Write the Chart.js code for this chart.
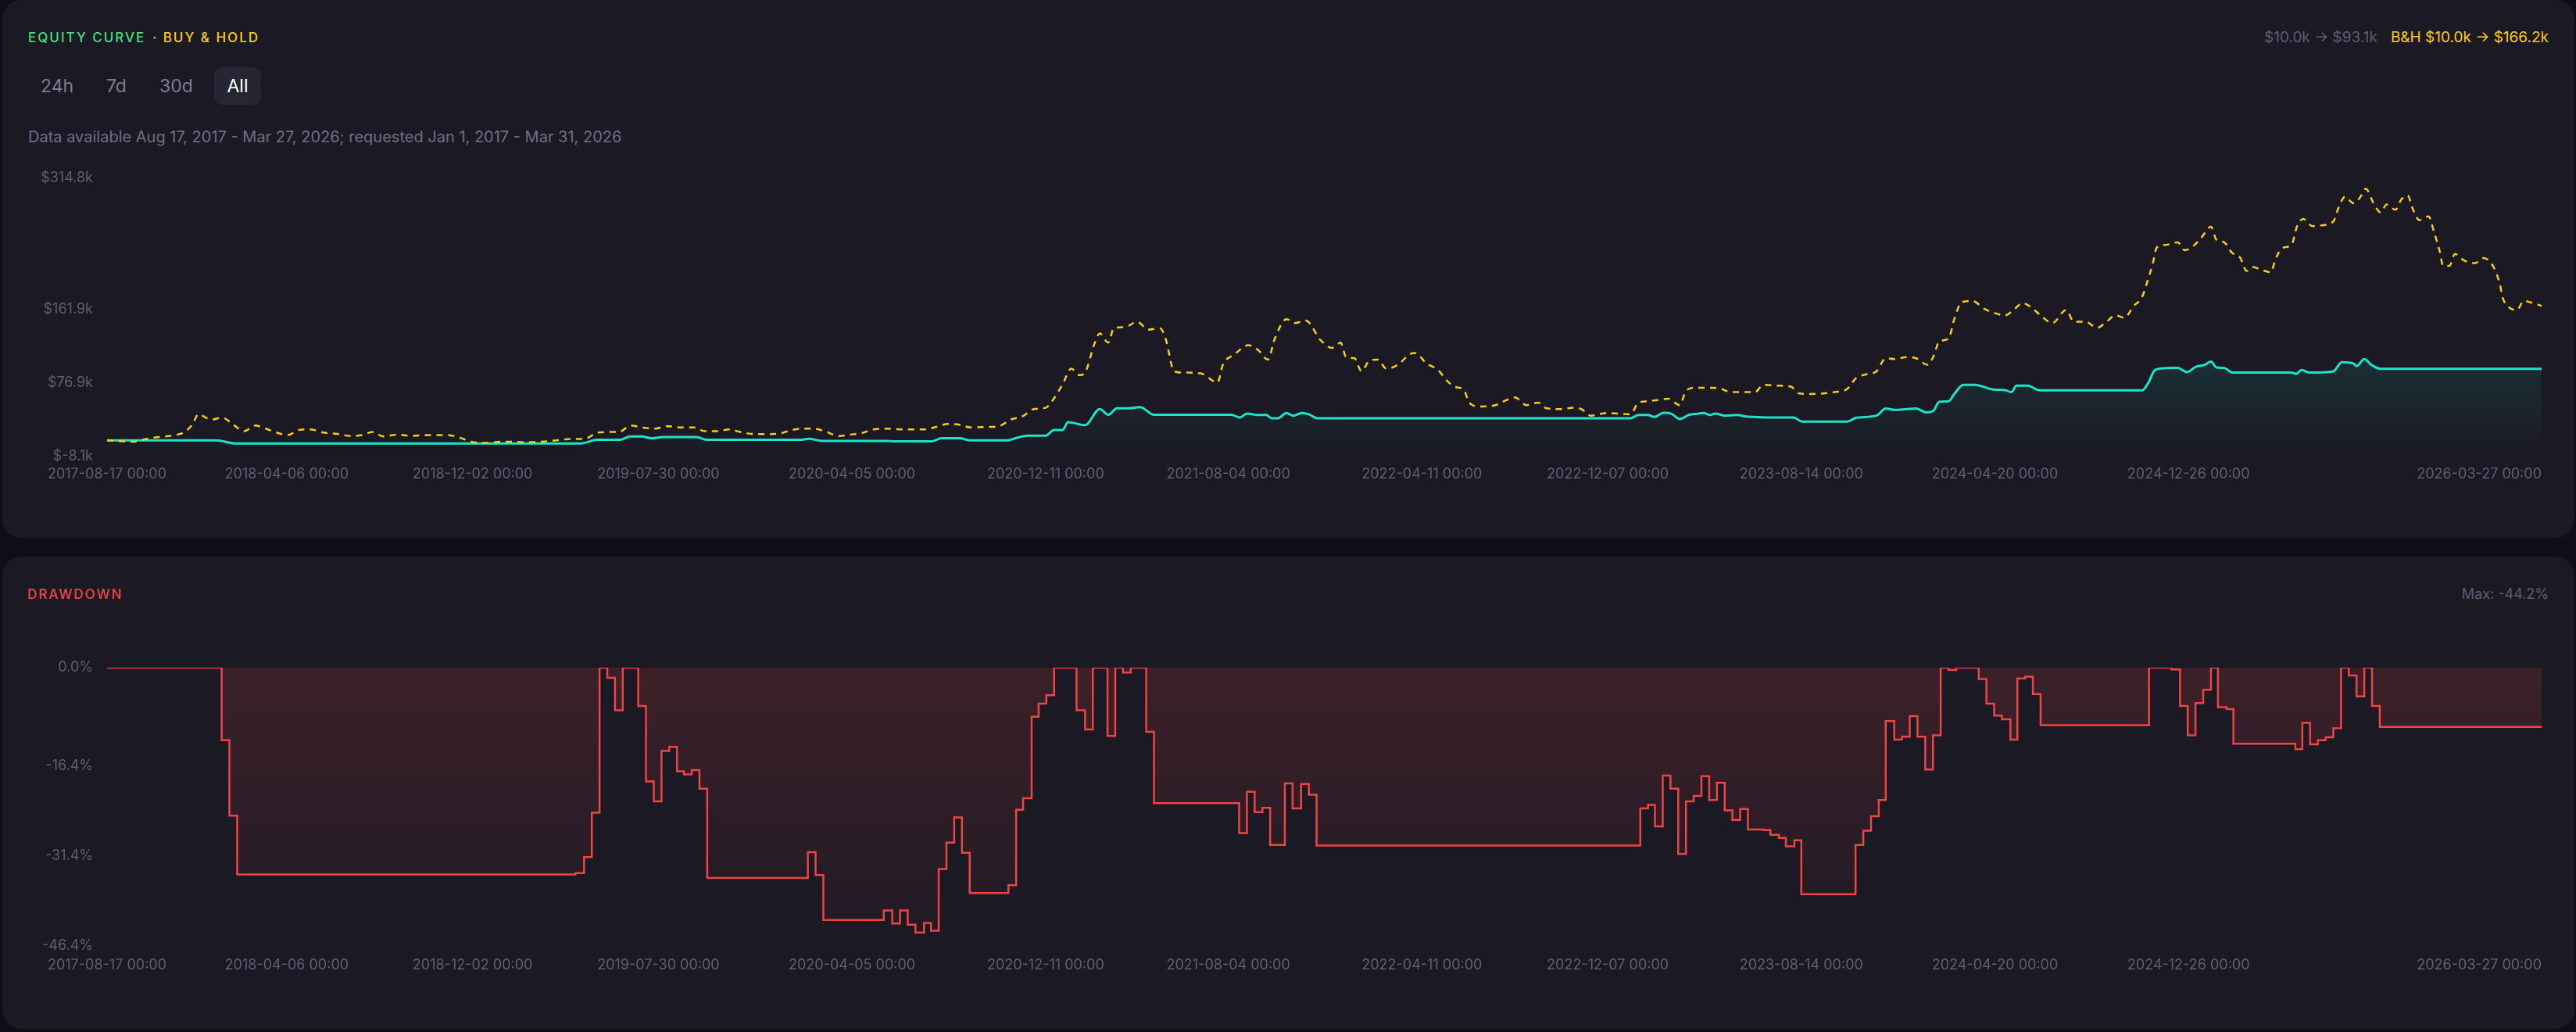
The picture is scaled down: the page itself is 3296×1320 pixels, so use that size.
<!DOCTYPE html>
<html>
<head>
<meta charset="utf-8">
<title>Equity curve</title>
<script src="https://cdn.jsdelivr.net/npm/chart.js@4.4.1/dist/chart.umd.min.js"></script>
<style>
html, body { margin: 0; padding: 0; width: 3296px; height: 1320px; overflow: hidden; background: #0f0e17; font-family: Inter, 'Noto Sans', sans-serif; }
.card { position: absolute; left: 3px; width: 3291px; background: #1b1a24; border-radius: 24px; }
.txt { position: absolute; white-space: nowrap; }
.title { font-size: 17px; line-height: 20px; letter-spacing: 2px; font-weight: 500; }
.btn { position: absolute; top: 86px; height: 48px; line-height: 48px; font-size: 23px; color: #7d7c93; }
.chartbox { position: absolute; left: 0; width: 3296px; }
</style>
</head>
<body>
<div class="card" style="top:0;height:688px"></div>
<div class="card" style="top:712px;height:604px"></div>

<div class="txt title" style="left:36px;top:38px;color:#4ade80">EQUITY CURVE</div>
<div class="txt title" style="left:195px;top:38px;color:#facc15">· BUY &amp; HOLD</div>
<div class="txt" style="right:35px;top:36px;font-size:19px;line-height:23px">
  <span style="color:#5e5d74">$10.0k → $93.1k</span><span style="color:#facc15;margin-left:17px">B&amp;H $10.0k → $166.2k</span>
</div>

<div class="btn" style="left:52px">24h</div>
<div class="btn" style="left:136px">7d</div>
<div class="btn" style="left:204px">30d</div>
<div class="btn" style="left:274px;width:60px;text-align:center;background:#262533;border-radius:10px;color:#ffffff">All</div>

<div class="txt" style="left:36px;top:163px;font-size:20px;line-height:24px;color:#6f6e86">Data available Aug 17, 2017 - Mar 27, 2026; requested Jan 1, 2017 - Mar 31, 2026</div>

<div class="chartbox" style="top:200px;height:440px"><canvas id="equityChart"></canvas></div>

<div class="txt title" style="left:35px;top:750px;color:#ef4444">DRAWDOWN</div>
<div class="txt" style="right:35px;top:749px;font-size:18px;line-height:22px;color:#5e5d74">Max: -44.2%</div>

<div class="chartbox" style="top:800px;height:480px"><canvas id="drawdownChart"></canvas></div>

<script>
const startDate = '2017-08-17'

// x axis tick dates
const tickDates = ['2017-08-17', '2018-04-06', '2018-12-02', '2019-07-30', '2020-04-05', '2020-12-11',
    '2021-08-04', '2022-04-11', '2022-12-07', '2023-08-14', '2024-04-20', '2024-12-26', '2026-03-27']

// y axis ticks
const equityTicks = [-8.1, 76.9, 161.9, 314.8]      // $k
const drawdownTicks = [0, -16.4, -31.4, -46.4]      // %

// strategy equity, days since start / value in $k
const equityDays = [0, 141, 166, 612, 633, 662, 676, 690, 704, 718,
    761, 775, 895, 906, 924, 1004, 1019, 1064, 1078, 1101,
    1115, 1163, 1175, 1189, 1212, 1223, 1234, 1241, 1263, 1282,
    1293, 1304, 1319, 1334, 1352, 1452, 1463, 1472, 1486, 1497,
    1504, 1512, 1523, 1532, 1543, 1552, 1563, 1967, 1978, 1990,
    1998, 2010, 2020, 2031, 2043, 2054, 2062, 2070, 2077, 2089,
    2105, 2116, 2166, 2178, 2189, 2247, 2259, 2285, 2297, 2309,
    2324, 2336, 2350, 2359, 2366, 2378, 2386, 2397, 2413, 2424,
    2436, 2451, 2459, 2466, 2480, 2496, 2628, 2636, 2644, 2651,
    2674, 2686, 2697, 2709, 2717, 2724, 2734, 2745, 2821, 2827,
    2834, 2844, 2875, 2886, 2901, 2905, 2915, 2924, 2936, 3144]
const equityValues = [10, 10, 6.4, 6.4, 10.6, 10.6, 14.5, 14.5, 12.4, 13.9,
    13.9, 10.6, 10.6, 11.8, 9.4, 9.4, 8.8, 8.8, 12.4, 12.4,
    10, 10, 13, 15.4, 15.4, 22.1, 22.1, 31.2, 27.6, 46.3,
    39.7, 47.2, 47.2, 48.7, 39.7, 39.7, 36.6, 41.2, 39.4, 39.4,
    35.7, 35.7, 41.8, 38.7, 41.8, 40.3, 35.7, 35.7, 39.4, 39.4,
    37.2, 42, 41, 34.8, 39.7, 40.9, 41.8, 39.4, 41.2, 38.7,
    39.4, 37.8, 36.6, 36.6, 31.8, 31.8, 36.3, 38.7, 46.9, 45.4,
    46.3, 46.9, 42.4, 44.8, 54.8, 55.4, 64.5, 74.5, 74.5, 72,
    69, 68.4, 66, 73.5, 73.5, 68.1, 68.1, 76.6, 91.1, 93.2,
    94.1, 89.3, 95.3, 97.8, 101.4, 94.7, 94.1, 88.7, 88.7, 87.2,
    91.7, 88.7, 90.2, 100.8, 99.3, 96.2, 104.4, 97.8, 93.1, 93.1]

// buy & hold, days since start / value in $k
const holdDays = [0, 35, 49, 67, 88, 99, 110, 118, 134, 149,
    163, 177, 191, 205, 219, 233, 248, 262, 279, 297,
    315, 329, 343, 357, 375, 393, 414, 439, 456, 470,
    485, 513, 541, 570, 598, 619, 633, 648, 662, 676,
    690, 708, 722, 740, 757, 772, 789, 803, 818, 832,
    853, 867, 882, 897, 912, 927, 945, 960, 975, 990,
    1008, 1027, 1056, 1071, 1086, 1101, 1115, 1138, 1152, 1167,
    1182, 1197, 1212, 1219, 1234, 1245, 1256, 1263, 1275, 1282,
    1293, 1300, 1315, 1330, 1345, 1360, 1367, 1378, 1389, 1412,
    1434, 1441, 1456, 1474, 1486, 1499, 1508, 1523, 1534, 1548,
    1567, 1582, 1593, 1600, 1611, 1620, 1630, 1641, 1652, 1667,
    1682, 1689, 1704, 1719, 1730, 1741, 1752, 1759, 1773, 1793,
    1804, 1818, 1833, 1848, 1859, 1878, 1893, 1904, 1916, 1937,
    1967, 1978, 1989, 2004, 2016, 2031, 2039, 2051, 2066, 2082,
    2097, 2112, 2128, 2139, 2158, 2174, 2185, 2201, 2216, 2231,
    2247, 2259, 2270, 2285, 2297, 2309, 2324, 2336, 2351, 2359,
    2366, 2378, 2386, 2395, 2409, 2424, 2436, 2451, 2462, 2474,
    2485, 2497, 2512, 2530, 2540, 2555, 2570, 2582, 2594, 2605,
    2617, 2628, 2636, 2642, 2647, 2659, 2674, 2683, 2694, 2705,
    2717, 2724, 2734, 2744, 2755, 2763, 2771, 2782, 2794, 2801,
    2809, 2821, 2828, 2836, 2848, 2859, 2875, 2882, 2890, 2901,
    2909, 2917, 2927, 2936, 2944, 2955, 2963, 2971, 2978, 2986,
    2998, 3005, 3012, 3017, 3025, 3032, 3044, 3058, 3069, 3082,
    3090, 3094, 3102, 3112, 3121, 3129, 3144]
const holdValues = [10, 8.5, 11.5, 13.9, 16.1, 19.1, 28.2, 40.3, 34.2, 36.3,
    28.2, 20.6, 27.2, 23.6, 19.1, 16.1, 22.1, 22.7, 19.1, 17.6,
    15.1, 16.1, 19.7, 14.5, 16.7, 15.1, 16.1, 16.1, 13, 8.5,
    7, 8.5, 7.9, 9.1, 11.5, 12.4, 19.1, 19.7, 20, 27.2,
    25.1, 23.6, 26.6, 25.1, 25.1, 20.6, 20.6, 22.7, 19.7, 17.6,
    17.3, 17.6, 21.5, 23.6, 23.6, 20.6, 15.1, 16.7, 18.5, 22.7,
    23.6, 22.7, 22.7, 25.7, 29.1, 28.2, 25.1, 25.7, 26.6, 34.2,
    37.8, 46.3, 47.8, 53.9, 75.1, 93.2, 85.7, 88.7, 122, 134.1,
    123.5, 140.1, 141.6, 147.7, 138.6, 140.1, 128, 90.2, 88.7, 87.8,
    77.2, 97.8, 109.9, 120.5, 115.3, 103.8, 128, 150.7, 146.2, 149.2,
    126.5, 117.4, 123.5, 106.8, 105.3, 90.2, 102.3, 103.8, 93.2, 97.8,
    109.9, 111.4, 99.3, 91.7, 79.6, 72, 69, 53.9, 49.3, 50.9,
    55.4, 59.9, 50.9, 53.9, 47.2, 46.3, 47.8, 46.3, 38.7, 41.8,
    40.3, 53.9, 55.4, 57, 58.4, 50.9, 67.5, 71.1, 71.1, 70.5,
    66, 66, 66, 74.5, 73.5, 72.6, 64.5, 63.9, 64.5, 66,
    69.6, 82.6, 86.3, 90.2, 105.3, 104.4, 106.8, 105.3, 97.8, 108.3,
    125, 128, 152.2, 170.4, 171.9, 162.8, 158.3, 155.2, 161.3, 169.5,
    164.3, 155.2, 146.2, 161.3, 147.7, 147.7, 140.7, 147.7, 155.2, 152.2,
    165.8, 176.4, 197.6, 215.8, 233.9, 237, 240, 230.9, 235.4, 246,
    258.1, 243, 240, 227.9, 221.8, 206.7, 211.2, 208.2, 205.2, 221.8,
    233.3, 237, 258.1, 267.2, 258.7, 259.6, 264.2, 280.8, 292.9, 285.4,
    291.4, 302, 285.4, 274.8, 283.9, 277.8, 289.9, 294.4, 277.8, 265.7,
    270.2, 252.1, 230.9, 212.7, 212.7, 226.4, 218.8, 215.8, 221.8, 211.2,
    191.6, 174.9, 164.3, 161.3, 171.9, 170.4, 166.2]

// drawdown (%), value holds from its day until the next change
const ddDays = [0, 148, 158, 168, 605, 616, 626, 636, 646, 656,
    666, 686, 696, 706, 716, 726, 736, 745, 755, 765,
    775, 905, 915, 925, 1003, 1014, 1024, 1034, 1044, 1055,
    1064, 1074, 1084, 1094, 1104, 1114, 1164, 1174, 1183, 1194,
    1203, 1213, 1223, 1252, 1263, 1273, 1292, 1302, 1312, 1322,
    1342, 1352, 1462, 1472, 1482, 1492, 1502, 1521, 1531, 1542,
    1552, 1562, 1980, 1990, 1999, 2009, 2019, 2029, 2039, 2049,
    2059, 2069, 2079, 2089, 2099, 2109, 2119, 2139, 2148, 2159,
    2168, 2179, 2188, 2258, 2268, 2278, 2288, 2297, 2308, 2318,
    2328, 2338, 2348, 2358, 2368, 2378, 2388, 2417, 2427, 2437,
    2447, 2458, 2467, 2477, 2487, 2497, 2637, 2666, 2677, 2687,
    2697, 2707, 2717, 2726, 2737, 2746, 2826, 2835, 2845, 2855,
    2865, 2875, 2885, 2895, 2905, 2915, 2925, 2935, 3144]
const ddValues = [0, -12.1, -24.7, -34.5, -34.3, -31.6, -24.2, 0, -1.7, -7.1,
    0, -6.4, -19, -22.3, -13.9, -13.2, -17.3, -17.8, -17.1, -20.2,
    -35.1, -30.8, -34.6, -42.1, -40.5, -42.7, -40.5, -42.9, -44.2, -42.6,
    -43.9, -33.6, -29.2, -25, -30.9, -37.6, -36.3, -23.7, -21.8, -8.2,
    -6, -4.6, 0, -7.1, -10.3, 0, -11.4, 0, -0.8, 0,
    -10.7, -22.6, -27.6, -20.7, -24.1, -23.4, -29.6, -19.3, -23.5, -19.4,
    -21.2, -29.7, -23.5, -22.9, -26.5, -18, -20.2, -31.1, -22.3, -21.4,
    -18.1, -22.1, -19.2, -23.8, -25.4, -23.6, -27, -27.1, -27.9, -28.4,
    -29.8, -28.8, -37.8, -29.6, -27.2, -24.8, -22.1, -8.9, -12, -11.5,
    -8.1, -11.5, -17, -11.3, 0, -0.4, 0, -1.9, -6, -8,
    -8.6, -12, -1.8, -1.5, -4.4, -9.6, 0, -0.3, -6.4, -11.3,
    -5.9, -3.7, 0, -6.6, -6.9, -12.7, -13.6, -9.2, -12.8, -12.1,
    -11.6, -10.1, 0, -1.3, -4.8, 0, -6.4, -9.9, -9.9]

const tickColor = '#5f5e75'
const teal = '#1fe3c9'
const gold = '#facc15'
const red = '#ef4444'

Chart.defaults.font.family = 'Inter, "Noto Sans", sans-serif'

function dayOf(s) {
    return Math.round((Date.parse(s) - Date.parse(startDate)) / 86400000)
}
const tickDays = tickDates.map(dayOf)
const lastDay = tickDays[tickDays.length - 1]

function pts(xs, ys) {
    return xs.map((x, i) => ({ x: x, y: ys[i] }))
}

function gradient(context, top, bottom) {
    const { ctx, chartArea } = context.chart
    if (!chartArea) return null
    const g = ctx.createLinearGradient(0, chartArea.top, 0, chartArea.bottom)
    g.addColorStop(0, top)
    g.addColorStop(1, bottom)
    return g
}

// shared time axis: first/last label kept inside (first one is a blank helper tick)
function xAxis(height, pad) {
    return {
        type: 'linear',
        min: 0,
        max: lastDay,
        grid: { display: false, drawTicks: false },
        border: { display: false },
        ticks: {
            align: 'inner', autoSkip: false, maxRotation: 0, padding: pad,
            color: tickColor, font: { size: 18 },
            callback: (v, i) => i === 0 ? '' : tickDates[i - 1] + ' 00:00'
        },
        afterBuildTicks: scale => {
            scale.ticks = [{ value: tickDays[0] }].concat(tickDays.map(d => ({ value: d })))
        },
        afterFit: scale => {
            scale.height = height
            scale.paddingLeft = 0
            scale.paddingRight = 0
        }
    }
}

function yAxis(min, max, ticks, fmt) {
    return {
        min: min,
        max: max,
        grid: { display: false, drawTicks: false },
        border: { display: false },
        ticks: { padding: 18, color: tickColor, font: { size: 18 }, callback: fmt },
        afterBuildTicks: scale => {
            scale.ticks = ticks.map(v => ({ value: v }))
        },
        afterFit: scale => {
            scale.width = 137
            scale.paddingTop = 0
            scale.paddingBottom = 0
        }
    }
}

new Chart(document.getElementById('equityChart'), {
    type: 'line',
    data: {
        datasets: [{
            label: 'Buy & Hold',
            data: pts(holdDays, holdValues),
            borderColor: gold,
            borderWidth: 2.5,
            borderDash: [8, 7],
            pointRadius: 0,
            fill: false,
            cubicInterpolationMode: 'monotone'
        }, {
            label: 'Equity',
            data: pts(equityDays, equityValues),
            borderColor: teal,
            borderWidth: 3,
            pointRadius: 0,
            fill: 'origin',
            backgroundColor: c => gradient(c, 'rgba(31,227,201,0.30)', 'rgba(31,227,201,0)'),
            cubicInterpolationMode: 'monotone'
        }]
    },
    options: {
        animation: false,
        responsive: true,
        maintainAspectRatio: false,
        layout: { padding: { top: 27.5, right: 44, bottom: 0, left: 0 } },
        plugins: { legend: { display: false }, tooltip: { enabled: false } },
        scales: {
            x: xAxis(56.8, 13),
            y: yAxis(equityTicks[0], equityTicks[equityTicks.length - 1], equityTicks,
                v => '$' + v.toFixed(1) + 'k')
        }
    }
})

new Chart(document.getElementById('drawdownChart'), {
    type: 'line',
    data: {
        datasets: [{
            label: 'Drawdown',
            data: pts(ddDays, ddValues),
            borderColor: red,
            borderWidth: 2.5,
            stepped: 'before',
            pointRadius: 0,
            fill: 'origin',
            backgroundColor: c => gradient(c, 'rgba(239,68,68,0.16)', 'rgba(239,68,68,0.02)')
        }]
    },
    options: {
        animation: false,
        responsive: true,
        maintainAspectRatio: false,
        layout: { padding: { top: 54, right: 44, bottom: 0, left: 0 } },
        plugins: { legend: { display: false }, tooltip: { enabled: false } },
        scales: {
            x: xAxis(70.4, 14),
            y: yAxis(drawdownTicks[drawdownTicks.length - 1], drawdownTicks[0], drawdownTicks,
                v => v.toFixed(1) + '%')
        }
    }
})
</script>
</body>
</html>
